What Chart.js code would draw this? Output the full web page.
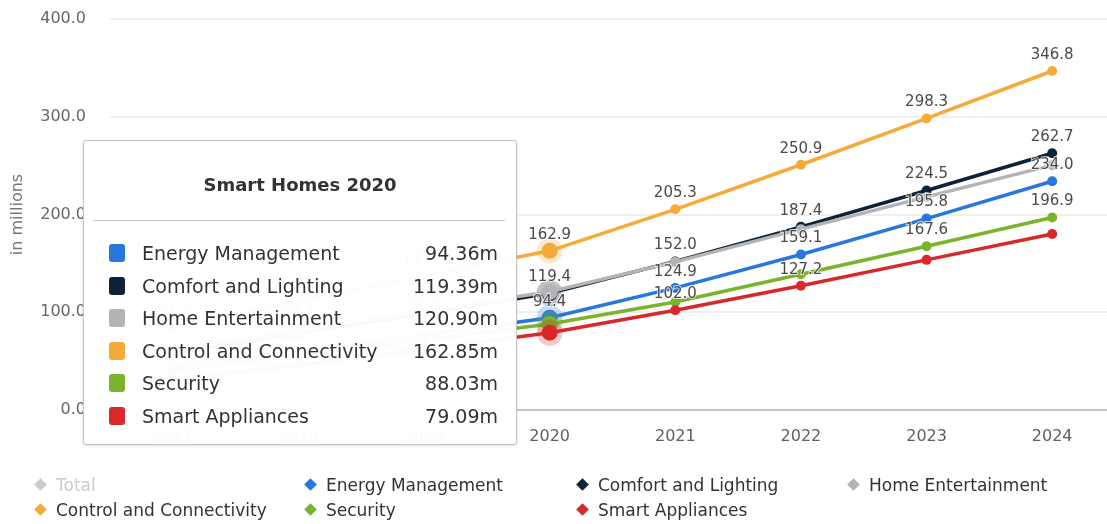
<!DOCTYPE html>
<html>
<head>
<meta charset="utf-8">
<script src="https://cdn.jsdelivr.net/npm/chart.js@4.4.1/dist/chart.umd.min.js"></script>
<style>
  html, body { margin: 0; padding: 0; background: #fff; }
  #wrap { position: relative; width: 1107px; height: 524px; overflow: hidden; }
  #cv { position: absolute; left: 0; top: 0; }
  #legend { position: absolute; left: 33px; top: 475px; width: 1084px;
            display: grid; grid-template-columns: 270px 272px 271px 271px; row-gap: 6px;
            font-family: "DejaVu Sans", sans-serif; font-size: 17px; color: #333; }
  .li { display: flex; align-items: center; height: 19px; white-space: nowrap; }
  .dia { width: 9px; height: 9px; transform: rotate(45deg); margin: 0 11px 0 3px; flex: none; }
  #tip { position: absolute; left: 83px; top: 140px; width: 432px; height: 303px;
         background: rgba(255,255,255,0.975); border: 1px solid #c4c4c4; border-radius: 3px;
         box-shadow: 0 1px 3px rgba(0,0,0,0.12);
         font-family: "DejaVu Sans", sans-serif; color: #333; opacity: 0; }
  #tip .tt { position: absolute; left: 0; right: 0; top: 33px; text-align: center; font-weight: bold; font-size: 18px; }
  #tip .hr { position: absolute; left: 9px; right: 11px; top: 79px; height: 1px; background: #c8c8c8; }
  #tip .row { position: absolute; left: 25px; right: 18px; height: 24px; display: flex; align-items: center; font-size: 19px; }
  #tip .sw { width: 16px; height: 18px; border-radius: 3px; margin-right: 17px; flex: none; }
  #tip .nm { flex: 1; }
  #tip .vl { text-align: right; }
</style>
</head>
<body>
<div id="wrap">
  <canvas id="cv" width="1125" height="524"></canvas>
  <div id="legend"></div>
  <div id="tip"></div>
</div>
<script>
const categories = ['2017', '2018', '2019', '2020', '2021', '2022', '2023', '2024'];
const yTicks = [0, 100, 200, 300, 400];
const total = [323.0, 434.3, 547.9, 664.62, 846.2, 1049.0, 1256.6, 1468.0];
const energyManagement = [45.2, 60.1, 76.8, 94.36, 124.9, 159.1, 195.8, 234.0];
const comfortLighting = [58.3, 78.6, 98.5, 119.39, 152.0, 187.4, 224.5, 262.7];
const homeEntertainment = [62.4, 82.1, 101.7, 120.90, 151.5, 185.0, 218.0, 250.5];
const controlConnectivity = [84.5, 111.3, 137.2, 162.85, 205.3, 250.9, 298.3, 346.8];
const security = [41.0, 56.2, 71.8, 88.03, 110.5, 138.8, 167.6, 196.9];
const smartAppliances = [31.5, 46.0, 61.9, 79.09, 102.0, 127.2, 153.6, 180.1];
const seriesNames = ['Total', 'Energy Management', 'Comfort and Lighting', 'Home Entertainment',
                     'Control and Connectivity', 'Security', 'Smart Appliances'];
const seriesData = [total, energyManagement, comfortLighting, homeEntertainment,
                    controlConnectivity, security, smartAppliances];
const seriesColors = ['#cccccc', '#2777dc', '#0c2238', '#b4b4b4', '#f5aa3a', '#7ab32c', '#d8282c'];
const hiddenSeries = ['Total'];
const activeCategory = '2020';

function alpha(hex, a) {
  const n = parseInt(hex.slice(1), 16);
  return `rgba(${(n >> 16) & 255},${(n >> 8) & 255},${n & 255},${a})`;
}
function fmt(v, d) {
  const p = Math.pow(10, d);
  return (Math.round(v * p + 1e-7) / p).toFixed(d);
}

const datasets = seriesNames.map((name, i) => ({
  label: name,
  data: seriesData[i],
  hidden: hiddenSeries.includes(name),
  borderColor: seriesColors[i],
  backgroundColor: seriesColors[i],
  borderWidth: 3.5,
  tension: 0,
  pointRadius: 5,
  pointBorderWidth: 0,
  pointBackgroundColor: seriesColors[i],
  pointHoverRadius: 8,
  pointHoverBorderWidth: 10,
  pointHoverBackgroundColor: seriesColors[i],
  pointHoverBorderColor: alpha(seriesColors[i], 0.25),
  order: seriesNames.length - i
}));

const dataLabels = {
  id: 'dataLabels',
  afterDatasetsDraw(chart) {
    const ctx = chart.ctx;
    ctx.save();
    ctx.font = '15px "DejaVu Sans", sans-serif';
    ctx.textAlign = 'center';
    ctx.textBaseline = 'middle';
    const boxes = [];
    chart.data.datasets.forEach((ds, di) => {
      if (!chart.isDatasetVisible(di)) return;
      const meta = chart.getDatasetMeta(di);
      meta.data.forEach((pt, idx) => {
        const txt = fmt(ds.data[idx], 1);
        const w = ctx.measureText(txt).width + 2;
        const h = 21;
        const cx = pt.x, cy = pt.y - 16;
        const b = { l: cx - w / 2, r: cx + w / 2, t: cy - h / 2, btm: cy + h / 2 };
        if (boxes.some(o => b.l < o.r && b.r > o.l && b.t < o.btm && b.btm > o.t)) return;
        boxes.push(b);
        ctx.lineWidth = 2;
        ctx.strokeStyle = 'rgba(255,255,255,0.7)';
        ctx.strokeText(txt, cx, cy);
        ctx.fillStyle = '#4a4a4a';
        ctx.fillText(txt, cx, cy);
      });
    });
    ctx.restore();
  }
};

const htmlLegend = {
  id: 'htmlLegend',
  afterUpdate(chart) {
    const box = document.getElementById('legend');
    box.innerHTML = '';
    chart.data.datasets.forEach((ds, i) => {
      const vis = chart.isDatasetVisible(i);
      const item = document.createElement('div');
      item.className = 'li';
      const d = document.createElement('span');
      d.className = 'dia';
      d.style.background = vis ? ds.borderColor : '#cccccc';
      const t = document.createElement('span');
      t.textContent = ds.label;
      t.style.color = vis ? '#333' : '#cccccc';
      item.appendChild(d); item.appendChild(t);
      box.appendChild(item);
    });
  }
};

function externalTooltip({ chart, tooltip }) {
  const el = document.getElementById('tip');
  if (tooltip.opacity === 0) { el.style.opacity = 0; return; }
  el.innerHTML = '';
  const tt = document.createElement('div');
  tt.className = 'tt';
  tt.textContent = (tooltip.title || []).join(' ');
  el.appendChild(tt);
  const hr = document.createElement('div');
  hr.className = 'hr';
  el.appendChild(hr);
  tooltip.dataPoints.forEach((dp, k) => {
    const row = document.createElement('div');
    row.className = 'row';
    row.style.top = (100 + k * 32.6) + 'px';
    const sw = document.createElement('span');
    sw.className = 'sw';
    sw.style.background = dp.dataset.borderColor;
    const nm = document.createElement('span');
    nm.className = 'nm';
    nm.textContent = dp.dataset.label;
    const vl = document.createElement('span');
    vl.className = 'vl';
    vl.textContent = fmt(dp.parsed.y, 2) + 'm';
    row.appendChild(sw); row.appendChild(nm); row.appendChild(vl);
    el.appendChild(row);
  });
  el.style.opacity = 1;
}

const chart = new Chart(document.getElementById('cv'), {
  type: 'line',
  data: { labels: categories, datasets },
  options: {
    responsive: false,
    animation: false,
    devicePixelRatio: 1,
    events: [],
    layout: { autoPadding: false, padding: { left: 0, right: 10, top: 19, bottom: 74 } },
    plugins: {
      legend: { display: false },
      tooltip: {
        enabled: false,
        mode: 'index',
        intersect: false,
        itemSort: (a, b) => a.datasetIndex - b.datasetIndex,
        callbacks: { title: items => 'Smart Homes ' + items[0].label },
        external: externalTooltip
      }
    },
    scales: {
      x: {
        type: 'category',
        offset: true,
        grid: { display: false, drawTicks: false },
        border: { display: true, color: '#c4c4c4', width: 2 },
        ticks: { color: '#606060', padding: 17, font: { family: 'DejaVu Sans', size: 16 } },
        afterFit: a => { a.height = 40; a.paddingLeft = 0; a.paddingRight = 0; }
      },
      y: {
        min: 0, max: 400,
        afterBuildTicks: a => { a.ticks = yTicks.map(v => ({ value: v })); },
        grid: { color: ctx => ctx.tick && ctx.tick.value === 0 ? 'rgba(0,0,0,0)' : '#efefef', lineWidth: 2, drawTicks: false },
        border: { display: false },
        ticks: { color: '#666666', padding: 24, font: { family: 'DejaVu Sans', size: 16 },
                 callback: v => Number(v).toFixed(1) },
        title: { display: true, text: 'in millions', color: '#777777', padding: { top: 8, bottom: 0 },
                 font: { family: 'DejaVu Sans', size: 16 } },
        afterFit: a => { a.width = 110; a.paddingTop = 0; a.paddingBottom = 0; }
      }
    }
  },
  plugins: [dataLabels, htmlLegend]
});

const idx = categories.indexOf(activeCategory);
const active = chart.data.datasets
  .map((d, i) => ({ datasetIndex: i, index: idx }))
  .filter(e => chart.isDatasetVisible(e.datasetIndex));
chart.setActiveElements(active);
chart.tooltip.setActiveElements(active, { x: chart.scales.x.getPixelForValue(idx), y: chart.chartArea.top });
chart.update();
</script>
</body>
</html>
